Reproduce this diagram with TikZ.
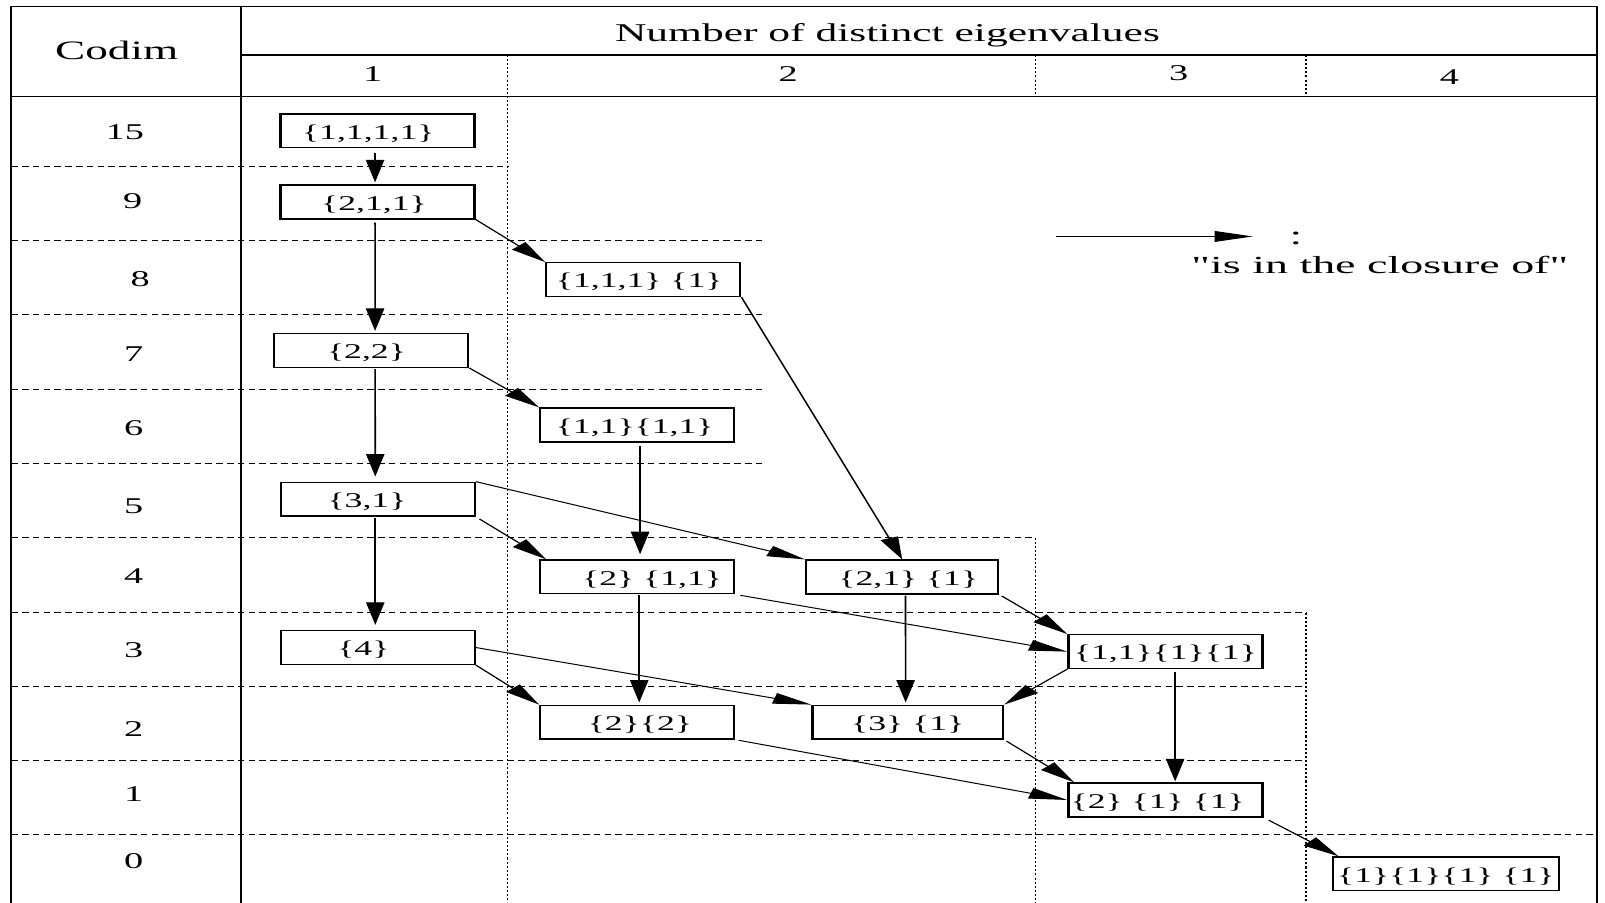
\documentclass[tikz,border=0pt]{standalone}
\usepackage{graphicx}
\usepackage{fontspec}
\setmainfont{Liberation Serif}
\usetikzlibrary{arrows.meta}
\tikzset{
  box/.style={draw, line width=1.3pt, minimum width=111.5pt, minimum height=33pt, inner sep=0pt,
    text height=17pt, text depth=1pt, font=\fontsize{20.5pt}{24pt}\selectfont},
  arr/.style={line width=0.95pt, -{Triangle[length=22pt,width=10.5pt]}},
  framel/.style={line width=1.2pt},
  hdash/.style={line width=0.9pt, dash pattern=on 3.8pt off 2.4pt},
  vdot/.style={line width=0.8pt, dash pattern=on 2pt off 2pt},
  lbl/.style={anchor=base, inner sep=0pt, font=\fontsize{22pt}{26pt}\selectfont},
}
\newcommand{\bt}[2]{\kern#1pt\relax #2}
\begin{document}
\begin{tikzpicture}[x=1pt,y=-1pt]
\useasboundingbox (0,0) rectangle (1568,882);
\begin{scope}[transform canvas={xscale=1.7}, x={(0.588235pt,0pt)}]
% frame
\draw[framel] (11,882) -- (11,6.5) -- (1560,6.5) -- (1560,882);
\draw[framel] (235.7,6.5) -- (235.7,882);
\draw[framel] (235.7,53.7) -- (1560,53.7);
\draw[framel] (11,94.4) -- (1560,94.4);
% dashed rows
\draw[hdash] (11,162.8) -- (496,162.8);
\draw[hdash] (11,234.5) -- (747.6,234.5);
\draw[hdash] (11,307.1) -- (747.6,307.1);
\draw[hdash] (11,380.4) -- (747.6,380.4);
\draw[hdash] (11,452.7) -- (747.6,452.7);
\draw[hdash] (11,525.3) -- (1011.8,525.3);
\draw[hdash] (11,598.5) -- (1276,598.5);
\draw[hdash] (11,670.8) -- (1276,670.8);
\draw[hdash] (11,743.1) -- (1276,743.1);
\draw[hdash] (11,815.1) -- (1560,815.1);
% dotted columns
\draw[vdot] (496,53.7) -- (496,882);
\draw[vdot] (1011.8,53.7) -- (1011.8,94.4);
\draw[vdot] (1011.8,525.3) -- (1011.8,882);
\draw[vdot] (1276,53.7) -- (1276,94.4);
\draw[vdot] (1276,598.5) -- (1276,882);
% header texts
\node[lbl, font=\fontsize{26pt}{30pt}\selectfont] (codim) at (114,58.6) {Codim};
\node[lbl, font=\fontsize{25pt}{30pt}\selectfont] (hdr) at (867,40.7) {Number of distinct eigenvalues};
\node[lbl] (c1) at (364,80) {1};
\node[lbl] (c2) at (770,80) {2};
\node[lbl] (c3) at (1151.5,79) {3};
\node[lbl] (c4) at (1416,83) {4};
% row labels
\node[lbl] (r15) at (122,136) {15};
\node[lbl] (r9) at (129.6,203.5) {9};
\node[lbl] (r8) at (137,280) {8};
\node[lbl] (r7) at (130.6,353) {7};
\node[lbl] (r6) at (130.6,425) {6};
\node[lbl] (r5) at (130.6,501.5) {5};
\node[lbl] (r4) at (130.6,570) {4};
\node[lbl] (r3) at (130.6,642) {3};
\node[lbl] (r2) at (130.6,720) {2};
\node[lbl] (r1) at (130.6,783) {1};
\node[lbl] (r0) at (130.6,848) {0};
% legend
\coordinate (lg1) at (1032,231);
\coordinate (lg2) at (1224,231);
\draw[arr] (lg1) -- (lg2);
\node[lbl, font=\fontsize{26pt}{30pt}\selectfont] (colon) at (1266,239) {:};
\node[lbl, font=\fontsize{24pt}{28pt}\selectfont] (legend) at (1348,267) {\addfontfeatures{Ligatures=TeXOff}\scalebox{1.1}[1]{"is in the closure of"}};
% boxes
\node[box] (A) at (368.8,127.9) {\bt{-10.6}{\{1,1,1,1\}}};
\node[box] (B) at (368.8,197.3) {\bt{-4}{\{2,1,1\}}};
\node[box] (C) at (628.5,273.2) {\bt{-4.7}{\{1,1,1\} \{1\}}};
\node[box] (D) at (362.7,342.4) {\bt{-5.5}{\{2,2\}}};
\node[box] (E) at (622.6,415.2) {\bt{-3}{\{1,1\}\{1,1\}}};
\node[box] (F) at (369,487.7) {\bt{-12.3}{\{3,1\}}};
\node[box] (G) at (622.6,563.6) {\bt{17}{\{2\} \{1,1\}}};
\node[box, minimum width=110.2pt] (H) at (881.4,563.7) {\bt{7}{\{2,1\} \{1\}}};
\node[box] (I) at (369,632.6) {\bt{-16.5}{\{4\}}};
\node[box] (J) at (1138.5,636.6) {\{1,1\}\{1\}\{1\}};
\node[box] (K) at (622.6,705.5) {\bt{3}{\{2\}\{2\}}};
\node[box, minimum width=109.6pt] (L) at (886.8,705.5) {\{3\} \{1\}};
\node[box] (M) at (1138.5,781.5) {\bt{-8.8}{\{2\} \{1\} \{1\}}};
\node[box, minimum width=130pt] (N) at (1412.5,853.7) {\{1\}\{1\}\{1\} \{1\}};
% arrows
\draw[arr, shorten <=4pt, shorten >=2pt] ([xshift=-1.4pt]A.south) -- ([xshift=-1.4pt]B.north);
\draw[arr, shorten <=3pt, shorten >=2pt] ([xshift=-1.4pt]B.south) -- ([xshift=2.2pt]D.north);
\draw[arr] (B.south east) -- (C.north west);
\draw[arr] (C.south east) -- (H.north);
\draw[arr] (D.south east) -- (E.north west);
\draw[arr, shorten <=1pt, shorten >=5pt] ([xshift=2.2pt]D.south) -- ([xshift=-1.4pt]F.north);
\draw[arr, shorten <=3pt, shorten >=5pt] ([xshift=1.6pt]E.south) -- ([xshift=1.6pt]G.north);
\draw[arr, shorten <=1pt, shorten >=5pt] ([xshift=-1.4pt]F.south) -- ([xshift=-1.4pt]I.north);
\draw[arr, shorten <=3pt] (F.south east) -- ([xshift=4pt]G.north west);
\draw[arr] (F.north east) -- (H.north west);
\draw[arr, shorten <=3pt] (G.south east) -- (J.west);
\draw[arr, shorten <=1pt, shorten >=2pt] ([xshift=1.1pt]G.south) -- ([xshift=1.1pt]K.north);
\draw[arr, shorten <=2pt] (H.south east) -- (J.north west);
\draw[arr, shorten <=1pt, shorten >=2pt] ([xshift=1.9pt]H.south) -- ([xshift=-1.2pt]L.north);
\draw[arr] (I.south east) -- (K.north west);
\draw[arr] (I.east) -- (L.north west);
\draw[arr] (J.south west) -- (L.north east);
\draw[arr, shorten <=3pt, shorten >=1pt] ([xshift=5.6pt]J.south) -- ([xshift=5.6pt]M.north);
\draw[arr, shorten <=2pt] (K.south east) -- (M.west);
\draw[arr, shorten <=2pt] (L.south east) -- ([xshift=4pt]M.north west);
\draw[arr, shorten <=4pt] (M.south east) -- ([xshift=4pt]N.north west);
\end{scope}
\end{tikzpicture}
\end{document}
